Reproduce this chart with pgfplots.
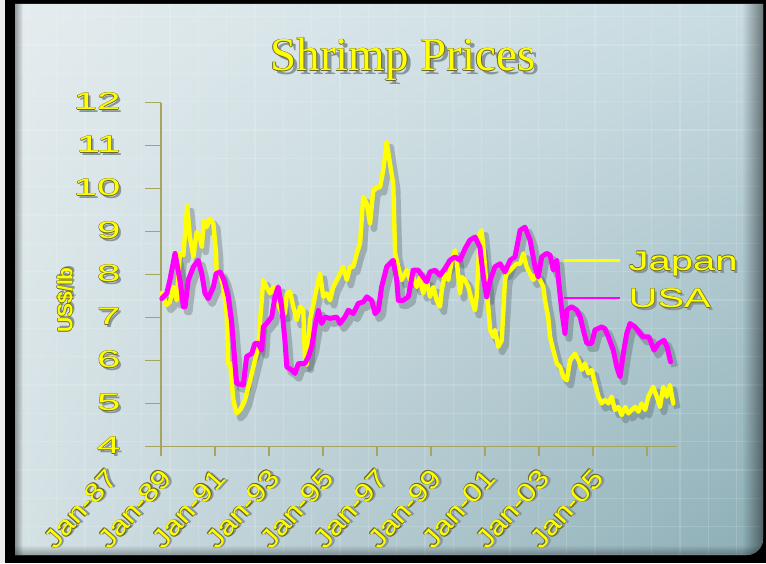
\documentclass[border=0pt]{standalone}
\usepackage{fontspec}
\setmainfont{Liberation Sans}
\newfontfamily\ttlfont{Liberation Serif}
\usepackage{graphicx}
\usepackage{pgfplots}
\pgfplotsset{compat=1.18}
\usepackage{pgfplotstable}
\usetikzlibrary{fadings,shadings}

\definecolor{olv}{RGB}{105,105,45}
\definecolor{shd}{RGB}{135,150,156}
\definecolor{axc}{RGB}{165,165,95}
\definecolor{ylw}{RGB}{255,255,0}
\definecolor{mag}{RGB}{255,0,255}
\definecolor{bgul}{RGB}{228,236,238}
\definecolor{bgur}{RGB}{200,220,226}
\definecolor{bgll}{RGB}{212,225,229}
\definecolor{bglr}{RGB}{140,174,182}

\newcommand{\fx}[2][2.5pt]{\leavevmode
 \rlap{\kern#1\raisebox{-#1}{\color{shd}#2}}%
 \rlap{\kern0.6pt\color{olv}#2}%
 \rlap{\kern-0.6pt\color{olv}#2}%
 \rlap{\raisebox{0.6pt}{\color{olv}#2}}%
 \rlap{\raisebox{-0.6pt}{\color{olv}#2}}%
 {\color{ylw}#2}}
\newcommand{\xl}[1]{\fx[2pt]{\scalebox{1.2}[1]{#1}}}
\newcommand{\yl}[1]{\fx[2.5pt]{\scalebox{1.75}[1]{#1}}}
\newcommand{\lgd}[1]{\hspace*{7pt}\fx[2.5pt]{\scalebox{1.48}[1]{#1}}}

\pgfplotstableread{
x y
1987.03 7.57
1987.21 7.29
1987.33 7.36
1987.46 7.71
1987.58 7.40
1987.70 8.49
1987.83 8.45
1987.97 9.59
1988.07 8.87
1988.20 8.41
1988.32 8.99
1988.44 8.87
1988.51 8.64
1988.59 9.26
1988.69 9.10
1988.81 9.30
1988.94 9.18
1989.04 8.49
1989.06 8.06
1989.19 8.00
1989.31 7.71
1989.43 7.09
1989.49 5.93
1989.56 5.93
1989.68 5.08
1989.80 4.77
1989.93 4.85
1990.11 5.08
1990.30 5.54
1990.42 5.85
1990.60 6.32
1990.69 7.09
1990.79 7.87
1990.91 7.71
1991.04 7.56
1991.16 7.71
1991.29 7.40
1991.47 7.09
1991.59 7.09
1991.66 7.56
1991.78 7.60
1991.90 7.25
1992.03 6.94
1992.15 7.25
1992.27 7.17
1992.33 6.09
1992.40 5.90
1992.52 6.94
1992.70 7.48
1992.83 7.87
1992.89 8.02
1993.01 7.48
1993.14 7.56
1993.26 7.40
1993.38 7.71
1993.51 7.87
1993.63 8.02
1993.75 8.18
1993.88 7.87
1994.00 8.18
1994.12 8.18
1994.25 8.49
1994.37 8.72
1994.49 9.80
1994.62 9.65
1994.74 9.18
1994.86 9.96
1994.99 10.03
1995.11 10.03
1995.23 10.42
1995.36 11.08
1995.48 10.58
1995.60 10.11
1995.67 8.49
1995.79 8.18
1995.91 7.87
1996.10 8.10
1996.22 7.87
1996.34 7.95
1996.47 7.71
1996.59 7.94
1996.71 7.56
1996.84 7.87
1996.96 7.48
1997.09 7.71
1997.21 7.40
1997.33 7.25
1997.40 7.64
1997.52 8.02
1997.64 7.87
1997.77 8.33
1997.89 8.56
1997.95 8.33
1998.07 7.56
1998.14 7.94
1998.26 7.87
1998.38 7.71
1998.51 7.40
1998.63 7.17
1998.69 7.48
1998.81 8.95
1998.87 9.03
1998.94 8.64
1999.06 7.71
1999.19 6.71
1999.31 6.55
1999.37 6.71
1999.49 6.32
1999.62 6.47
1999.74 7.87
1999.80 8.02
1999.93 8.10
2000.05 8.18
2000.17 8.25
2000.30 8.25
2000.42 8.49
2000.54 8.18
2000.67 8.02
2000.79 7.87
2000.91 8.02
2001.04 7.87
2001.16 7.71
2001.22 7.40
2001.34 7.01
2001.41 6.55
2001.53 6.24
2001.66 5.93
2001.78 5.85
2001.90 5.62
2002.03 5.54
2002.15 6.01
2002.33 6.16
2002.46 6.01
2002.58 5.78
2002.70 5.93
2002.83 5.70
2002.95 5.78
2003.07 5.47
2003.20 5.16
2003.32 5.00
2003.44 5.08
2003.57 5.00
2003.69 5.16
2003.81 4.85
2003.94 4.92
2004.06 4.73
2004.19 4.92
2004.31 4.77
2004.43 4.85
2004.56 4.92
2004.68 4.81
2004.80 5.00
2004.93 4.85
2005.05 5.16
2005.23 5.39
2005.36 5.16
2005.48 4.92
2005.60 5.39
2005.73 5.16
2005.85 5.43
2005.97 5.00
}\japan

\pgfplotstableread{
x y
1987.03 7.44
1987.21 7.56
1987.33 7.87
1987.52 8.49
1987.70 7.87
1987.83 7.25
1987.89 7.25
1988.01 7.87
1988.20 8.18
1988.38 8.33
1988.51 8.02
1988.63 7.56
1988.75 7.44
1988.94 7.71
1989.04 8.02
1989.19 8.06
1989.33 7.87
1989.49 7.48
1989.62 6.86
1989.74 5.93
1989.80 5.47
1990.05 5.43
1990.17 6.09
1990.36 6.16
1990.48 6.40
1990.60 6.40
1990.73 6.24
1990.79 6.78
1990.91 6.86
1991.10 7.01
1991.22 7.48
1991.34 7.71
1991.47 7.25
1991.59 6.47
1991.66 5.85
1991.84 5.78
1991.96 5.70
1992.09 5.93
1992.33 5.93
1992.46 6.09
1992.58 6.32
1992.70 6.78
1992.83 7.17
1992.95 6.86
1993.07 7.01
1993.26 6.98
1993.51 7.01
1993.63 6.86
1993.81 7.01
1993.94 7.17
1994.12 7.09
1994.31 7.33
1994.49 7.36
1994.62 7.48
1994.80 7.40
1994.93 7.09
1995.05 7.17
1995.17 7.71
1995.36 8.18
1995.60 8.33
1995.73 7.87
1995.79 7.40
1995.97 7.40
1996.16 7.48
1996.34 8.10
1996.53 8.10
1996.71 7.94
1996.84 7.83
1996.96 8.06
1997.15 8.10
1997.33 7.98
1997.52 8.14
1997.70 8.33
1997.89 8.41
1998.07 8.33
1998.26 8.60
1998.44 8.80
1998.63 8.87
1998.81 8.64
1998.94 7.94
1999.06 7.48
1999.19 7.87
1999.37 8.18
1999.56 8.25
1999.74 8.06
1999.93 8.33
2000.11 8.41
2000.30 9.03
2000.48 9.10
2000.67 8.80
2000.85 8.18
2000.97 7.94
2001.10 8.41
2001.28 8.49
2001.41 8.45
2001.53 8.10
2001.66 8.33
2001.71 7.94
2001.84 7.17
2001.96 6.63
2002.03 7.17
2002.21 7.25
2002.40 7.17
2002.52 7.02
2002.64 6.71
2002.77 6.40
2002.95 6.40
2003.07 6.71
2003.32 6.78
2003.44 6.74
2003.57 6.55
2003.75 6.24
2003.88 5.85
2004.00 5.62
2004.12 6.16
2004.25 6.63
2004.37 6.86
2004.56 6.78
2004.74 6.63
2004.85 6.55
2005.07 6.55
2005.26 6.24
2005.44 6.40
2005.63 6.47
2005.75 6.30
2005.87 5.97
}\usa

\begin{document}
\begin{tikzpicture}[x=1pt,y=1pt]
\useasboundingbox (0,0) rectangle (766,563);
\fill[black] (0,0) rectangle (766,563);
\fill[gray!15] (0,0) rectangle (5,563);
\begin{scope}
\clip (15,559) -- (763,559) -- (763,24) arc[start angle=0, end angle=-90, radius=16] -- (15,8) -- cycle;
\shade[upper left=bgul, upper right=bgur, lower left=bgll, lower right=bglr] (15,8) rectangle (763,559);
\foreach \i in {1,...,26} \draw[white, opacity=0.14, line width=1.2] (\i*28.33,8) -- (\i*28.33,559);
\foreach \j in {0,...,19} \draw[white, opacity=0.14, line width=1.2] (15,546.3-\j*28.33) -- (763,546.3-\j*28.33);
\fill[black, path fading=west, opacity=0.45] (742,8) rectangle (763,559);
\fill[black, path fading=east, opacity=0.35] (15,8) rectangle (23,559);
\fill[black, path fading=north, opacity=0.3] (15,8) rectangle (763,18);
\end{scope}

\node[anchor=base] at (403,492) {\fontsize{47}{53}\selectfont\ttlfont\fx[4pt]{Shrimp Prices}};
\node[rotate=90] at (66,263) {\fontsize{21}{23}\selectfont\bfseries\fx[2pt]{US\$/lb}};

\begin{axis}[
 at={(161pt,116.5pt)}, anchor=south west,
 scale only axis, width=516pt, height=344pt,
 xmin=1987, xmax=2006.11, ymin=4, ymax=12,
 axis lines=left, axis line style={-, draw=axc, line width=1.2pt},
 tick align=outside,
 xtick={1987,1989,...,2005},
 xticklabels={\xl{Jan-87},\xl{Jan-89},\xl{Jan-91},\xl{Jan-93},\xl{Jan-95},\xl{Jan-97},\xl{Jan-99},\xl{Jan-01},\xl{Jan-03},\xl{Jan-05}},
 ytick={4,5,...,12},
 yticklabels={\yl{4},\yl{5},\yl{6},\yl{7},\yl{8},\yl{9},\yl{10},\yl{11},\yl{12}},
 xtick style={draw=axc, line width=1.2pt, /pgfplots/major tick length=9pt},
 ytick style={draw=axc, line width=1.2pt, /pgfplots/major tick length=16pt},
 xticklabel style={xshift=-48pt, yshift=-23pt, rotate=48, anchor=east, inner sep=0pt, font=\fontsize{26}{28}\selectfont},
 yticklabel style={anchor=east, inner sep=0pt, xshift=-36pt, font=\fontsize{24}{26}\selectfont},
 clip=false,
 legend style={at={(rel axis cs:0.779,0.483)}, anchor=west, draw=none, fill=none, inner sep=0pt,
   row sep=16.4pt, nodes={inner sep=0pt}, font=\fontsize{27}{29}\selectfont},
 legend cell align=left,
 legend image code/.code={\draw[#1, line width=2.5pt, line cap=butt] (0pt,1pt) -- (56pt,1pt);},
]
\addplot[forget plot, draw={rgb,255:red,50;green,65;blue,70}, opacity=0.28, line width=6.5pt, line join=round, xshift=4pt, yshift=-5pt] table {\japan};
\addplot[forget plot, draw={rgb,255:red,50;green,65;blue,70}, opacity=0.28, line width=7pt, line join=round, xshift=4pt, yshift=-5pt] table {\usa};
\addplot[draw=ylw, line width=4.4pt, line join=round, line cap=round] table {\japan};
\addplot[draw=mag, line width=5pt, line join=round, line cap=round] table {\usa};
\legend{\lgd{Japan},\lgd{USA}}
\end{axis}
\end{tikzpicture}
\end{document}
